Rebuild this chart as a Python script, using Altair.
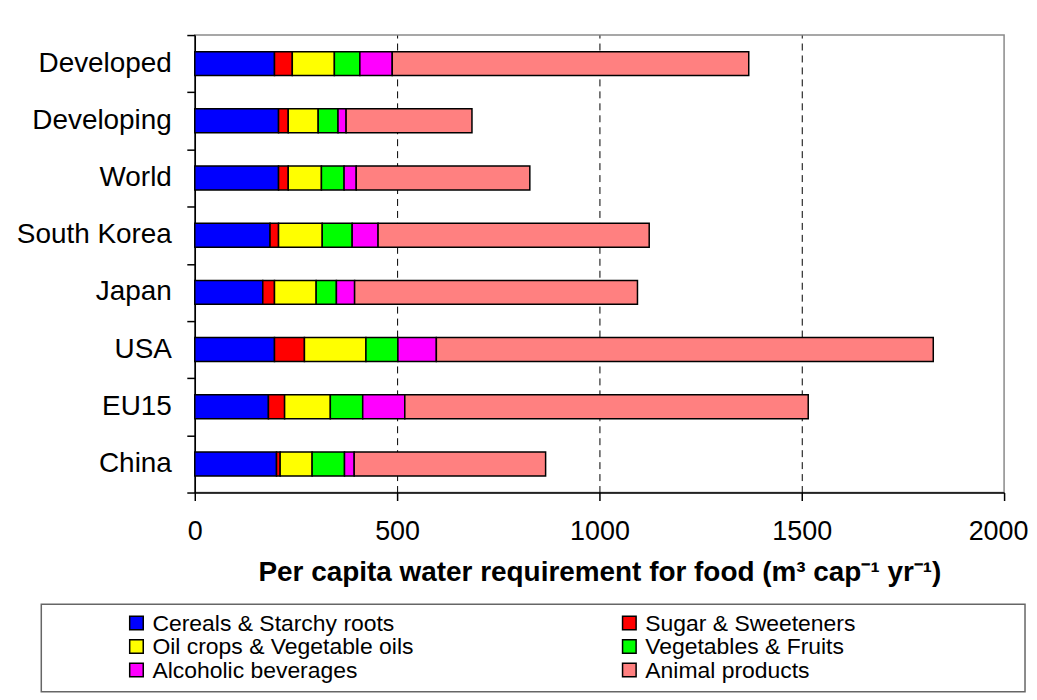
import altair as alt
import pandas as pd

regions = ["Developed", "Developing", "World", "South Korea", "Japan", "USA", "EU15", "China"]
categories = ["Cereals & Starchy roots", "Sugar & Sweeteners", "Oil crops & Vegetable oils",
              "Vegetables & Fruits", "Alcoholic beverages", "Animal products"]
colors = ["#0000FF", "#FF0000", "#FFFF00", "#00FF00", "#FF00FF", "#FF8080"]

cereals = [197, 207, 207, 186, 168, 197, 182, 202]
sugar = [44, 24, 24, 21, 29, 74, 40, 9]
oil = [104, 74, 82, 108, 103, 152, 113, 79]
veg = [63, 49, 56, 74, 50, 79, 80, 80]
alcohol = [80, 20, 30, 64, 45, 95, 104, 24]
animal = [881, 311, 429, 670, 699, 1228, 997, 473]

x_ticks = [0, 500, 1000, 1500, 2000]

series = [cereals, sugar, oil, veg, alcohol, animal]
rows = []
for ci, (cat, vals) in enumerate(zip(categories, series)):
    for r, v in zip(regions, vals):
        rows.append({"region": r, "category": cat, "order": ci, "value": v})
df = pd.DataFrame(rows)

FONT = "Liberation Sans"
color_scale = alt.Scale(domain=categories, range=colors)
y_scale = alt.Scale(paddingInner=0, paddingOuter=0)

bars = alt.Chart(df).mark_bar(size=24, stroke="black", strokeWidth=1.5).encode(
    x=alt.X("value:Q", stack="zero",
            scale=alt.Scale(domain=[0, 2000], nice=False),
            axis=alt.Axis(values=x_ticks, format="d",
                          title="Per capita water requirement for food (m³ cap⁻¹ yr⁻¹)",
                          titleFont=FONT, titleFontSize=28, titleFontWeight="bold",
                          titleColor="black", titlePadding=14,
                          labelFont=FONT, labelFontSize=27, labelColor="black",
                          labelPadding=18, labelFlush=False,
                          labelAlign={"condition": {"test": "datum.value == 2000", "value": "right"},
                                      "value": "center"},
                          labelOffset={"condition": {"test": "datum.value == 2000", "value": 24},
                                       "value": 0},
                          domainColor="black", domainWidth=1.5,
                          tickColor="black", tickSize=8, tickWidth=1.5,
                          grid=True, gridColor="black", gridDash=[7, 5], gridWidth=1,
                          gridOpacity={"condition": {"test": "datum.value > 0 && datum.value < 2000", "value": 1},
                                       "value": 0})),
    y=alt.Y("region:N", sort=regions, scale=y_scale,
            axis=alt.Axis(title=None, tickBand="extent", labels=False,
                          domainColor="black", domainWidth=1.5,
                          tickColor="black", tickSize=8, tickWidth=1.5,
                          grid=False)),
    color=alt.Color("category:N", scale=color_scale, legend=None),
    order=alt.Order("order:Q"),
).properties(width=812, height=459,
             view=alt.ViewBackground(stroke="#8a8a8a", strokeWidth=1.5))

labels = alt.Chart(pd.DataFrame({"region": regions})).mark_text(
    align="right", baseline="middle", font=FONT, fontSize=28, color="black"
).encode(
    y=alt.Y("region:N", sort=regions, scale=y_scale, axis=None),
    x=alt.value(131),
    text="region:N",
).properties(width=143, height=459, view=alt.ViewBackground(stroke="transparent"))

top = alt.hconcat(labels, bars, spacing=0)

leg_df = pd.DataFrame({
    "category": categories,
    "col": [i % 2 for i in range(len(categories))],
    "row": [i // 2 for i in range(len(categories))],
})

leg_base = alt.Chart(leg_df).encode(
    x=alt.X("col:Q", scale=alt.Scale(domain=[0, 1], range=[95.5, 590]), axis=None),
    y=alt.Y("row:Q", scale=alt.Scale(domain=[0, 2], range=[19, 66]), axis=None),
)
leg_sym = leg_base.mark_square(size=185, stroke="black", strokeWidth=1.5, opacity=1).encode(
    color=alt.Color("category:N", scale=color_scale, legend=None)
)
leg_txt = leg_base.mark_text(align="left", baseline="middle", dx=16, dy=1,
                             font=FONT, fontSize=23, color="black").encode(
    text="category:N"
)
legend = alt.layer(leg_sym, leg_txt).properties(
    width=987, height=88,
    view=alt.ViewBackground(stroke="#666666", strokeWidth=1.5))

chart = alt.vconcat(top, legend, spacing=16).properties(
    padding={"left": 7.4, "top": 24, "right": 0, "bottom": 0}
).configure(font=FONT)

chart.save("out.html", embed_options={"renderer": "svg", "actions": False})
